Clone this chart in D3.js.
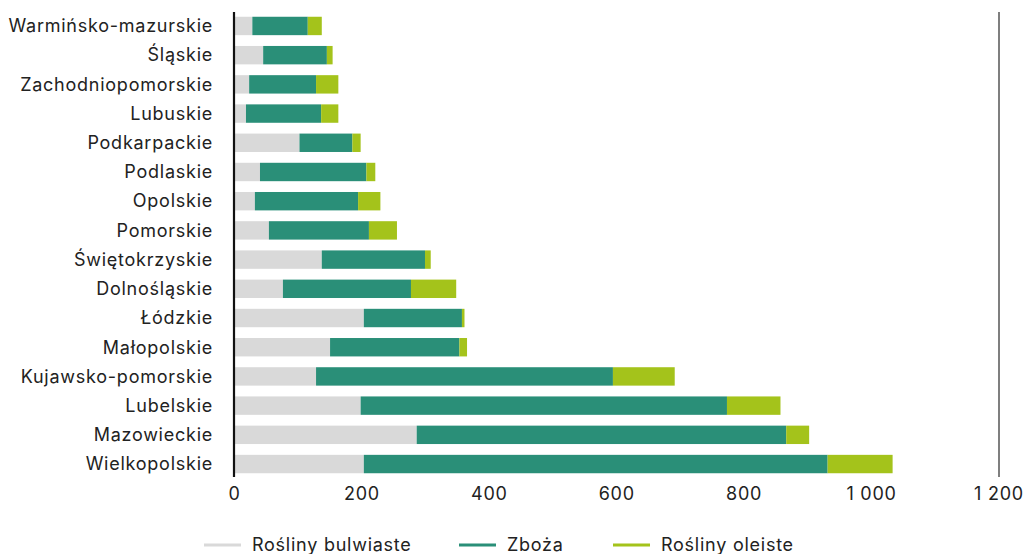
<!DOCTYPE html>
<html><head><meta charset="utf-8">
<script src="https://cdn.jsdelivr.net/npm/d3@7"></script>
<style>
body{margin:0;background:#fff;}
text{font-family:"Inter","Open Sans",sans-serif;fill:#222;letter-spacing:0.75px;font-weight:400;}
</style></head><body>
<svg id="c" width="1024" height="554"></svg>
<script>
const categories = ["Warmińsko-mazurskie","Śląskie","Zachodniopomorskie","Lubuskie","Podkarpackie","Podlaskie","Opolskie","Pomorskie","Świętokrzyskie","Dolnośląskie","Łódzkie","Małopolskie","Kujawsko-pomorskie","Lubelskie","Mazowieckie","Wielkopolskie"];
const bulwiaste = [28,45,23,18,102,40,32,54,137,76,203,150,128,198,286,203];
const zboza     = [87,100,105,118,83,167,162,157,162,201,154,203,466,575,580,728];
const oleiste   = [22,9,35,27,13,14,35,44,9,71,4,12,97,84,36,102];
const seriesNames = ["Rośliny bulwiaste","Zboża","Rośliny oleiste"];
const seriesColors = ["#d9d9d9","#2a8f78","#a4c31b"];
const tickValues = [0,200,400,600,800,1000,1200];
const tickLabels = ["0","200","400","600","800","1 000","1 200"];

const svg = d3.select("#c");
const x = d3.scaleLinear().domain([0,1200]).range([234.5,999]);
const y = d3.scaleBand().domain(categories).range([11.5,478.5]).paddingInner(0.37).paddingOuter(0.18);

const table = categories.map((c,i)=>({cat:c, b:bulwiaste[i], z:zboza[i], o:oleiste[i]}));
const stack = d3.stack().keys(["b","z","o"])(table);

svg.append("g").selectAll("g").data(stack).join("g")
  .attr("fill",(d,i)=>seriesColors[i])
  .selectAll("rect").data(d=>d).join("rect")
  .attr("x",d=>x(d[0]))
  .attr("y",d=>y(d.data.cat))
  .attr("width",d=>x(d[1])-x(d[0]))
  .attr("height",y.bandwidth());

// category labels
svg.append("g").selectAll("text").data(categories).join("text")
  .attr("x",213).attr("y",d=>y(d)+y.bandwidth()/2)
  .attr("dy","0.35em").attr("text-anchor","end")
  .attr("font-size",18).text(d=>d);

// axis lines
svg.append("line").attr("x1",x(0)-0.5).attr("x2",x(0)-0.5).attr("y1",12).attr("y2",477)
  .attr("stroke","#111").attr("stroke-width",2.2);
svg.append("line").attr("x1",x(1200)).attr("x2",x(1200)).attr("y1",12).attr("y2",477)
  .attr("stroke","#555").attr("stroke-width",1.5);

// tick labels
svg.append("g").selectAll("text").data(tickValues).join("text")
  .attr("x",d=>x(d)).attr("y",500).attr("text-anchor","middle")
  .attr("font-size",18).text((d,i)=>tickLabels[i]);

// legend
const legX = [204,459,613];
const lg = svg.append("g").selectAll("g").data(seriesNames).join("g")
  .attr("transform",(d,i)=>`translate(${legX[i]},545)`);
lg.append("line").attr("x1",0).attr("x2",37).attr("y1",0).attr("y2",0)
  .attr("stroke",(d,i)=>seriesColors[i]).attr("stroke-width",3);
lg.append("text").attr("x",48).attr("y",0).attr("dy","0.35em")
  .attr("font-size",18).text(d=>d);
</script></body></html>
